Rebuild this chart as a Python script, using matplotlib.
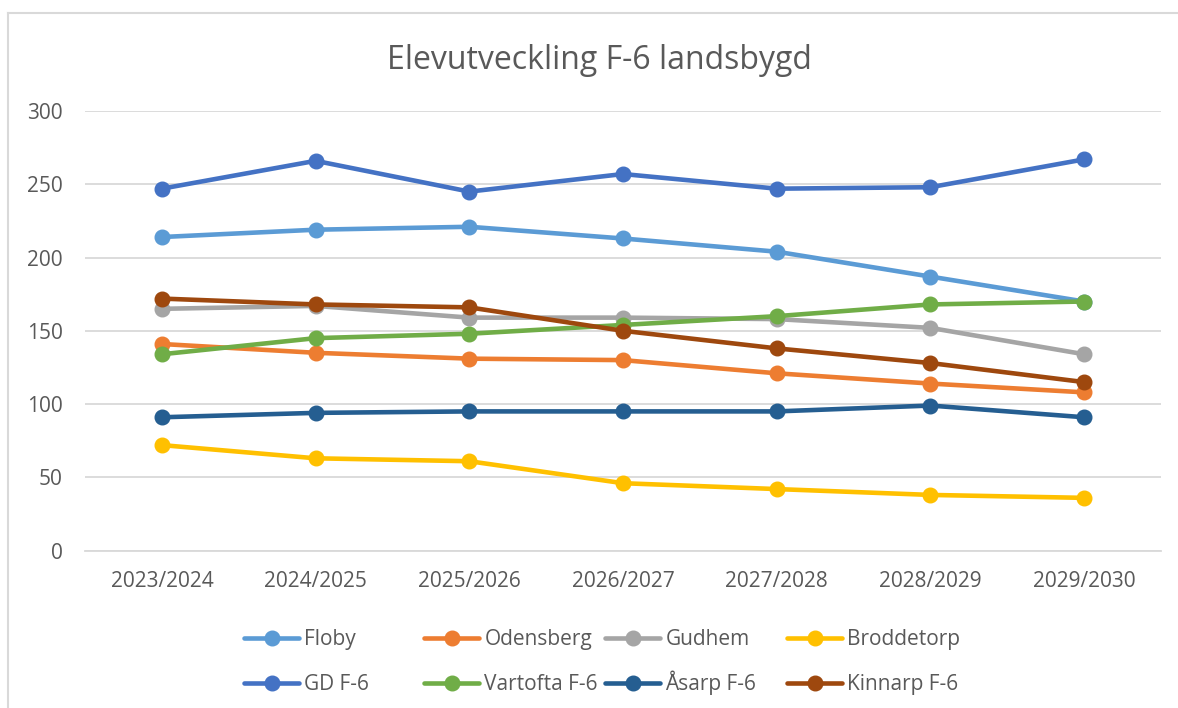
import matplotlib
matplotlib.use('Agg')
import matplotlib.pyplot as plt
from matplotlib.lines import Line2D

plt.rcParams['font.family'] = ['Open Sans', 'DejaVu Sans']

years = ['2023/2024', '2024/2025', '2025/2026', '2026/2027',
         '2027/2028', '2028/2029', '2029/2030']

floby = [214, 219, 221, 213, 204, 187, 170]
odensberg = [141, 135, 131, 130, 121, 114, 108]
gudhem = [165, 167, 159, 159, 158, 152, 134]
broddetorp = [72, 63, 61, 46, 42, 38, 36]
gd_f6 = [247, 266, 245, 257, 247, 248, 267]
vartofta_f6 = [134, 145, 148, 154, 160, 168, 170]
asarp_f6 = [91, 94, 95, 95, 95, 99, 91]
kinnarp_f6 = [172, 168, 166, 150, 138, 128, 115]

series = [
    ('Floby', floby, '#5B9BD5'),
    ('Odensberg', odensberg, '#ED7D31'),
    ('Gudhem', gudhem, '#A5A5A5'),
    ('Broddetorp', broddetorp, '#FFC000'),
    ('GD F-6', gd_f6, '#4472C4'),
    ('Vartofta F-6', vartofta_f6, '#70AD47'),
    ('Åsarp F-6', asarp_f6, '#255E91'),
    ('Kinnarp F-6', kinnarp_f6, '#9E480E'),
]

txt = '#595959'
grid = '#D9D9D9'

fig = plt.figure(figsize=(11.78, 7.08), dpi=100)
ax = fig.add_axes([0.0722, 0.2223, 0.9134, 0.6209])

x = list(range(len(years)))
lines = []
for name, vals, col in series:
    ln, = ax.plot(x, vals, color=col, lw=3.3, marker='o', ms=10.5,
                  label=name, solid_capstyle='round')
    lines.append(ln)

ax.set_xlim(-0.5, len(years) - 0.5)
ax.set_ylim(0, 300)
ax.set_yticks(range(0, 301, 50))
ax.set_xticks(x)
ax.set_xticklabels(years)
ax.yaxis.grid(True, color=grid, lw=1.3)
ax.set_axisbelow(True)
for s in ['top', 'right', 'left']:
    ax.spines[s].set_visible(False)
ax.spines['bottom'].set_color(grid)
ax.spines['bottom'].set_linewidth(1.3)
ax.tick_params(axis='both', length=0, labelsize=15, labelcolor=txt)
ax.tick_params(axis='x', pad=15)
ax.tick_params(axis='y', pad=16)

fig.text(0.509, 0.915, 'Elevutveckling F-6 landsbygd', ha='center',
         va='center', fontsize=23, color=txt)

# chart border (left and top edges visible)
fig.add_artist(Line2D([0.0072, 0.0072], [0, 0.9823], color=grid, lw=1.5,
                      transform=fig.transFigure))
fig.add_artist(Line2D([0.0072, 1], [0.9823, 0.9823], color=grid, lw=1.5,
                      transform=fig.transFigure))

# legend: one entry per box so rows and columns line up like Excel
col_x = [244, 424, 605, 787]
row_y = [650, 695]
for i, ln in enumerate(lines):
    px = col_x[i % 4]
    py = row_y[i // 4]
    fig.legend([ln], [ln.get_label()], loc='lower left',
               bbox_to_anchor=(px / 1178, 1 - py / 708),
               frameon=False, fontsize=15, handlelength=2.65,
               handletextpad=0.25, borderpad=0, borderaxespad=0,
               labelcolor=txt)

fig.savefig('out.png', dpi=100)
